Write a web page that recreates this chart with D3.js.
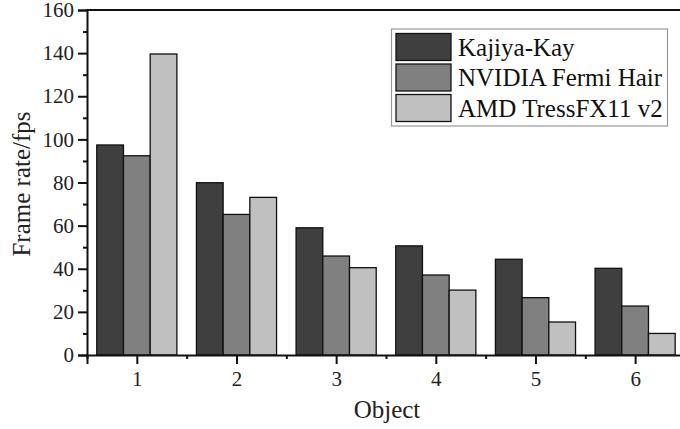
<!DOCTYPE html>
<html>
<head>
<meta charset="utf-8">
<script src="https://cdn.jsdelivr.net/npm/d3@7"></script>
<style>
  html, body { margin: 0; padding: 0; background: #fff; }
  svg { display: block; font-family: "Liberation Serif", "Times New Roman", serif; }
</style>
</head>
<body>
<svg id="chart" width="680" height="429"></svg>
<script>
// ---- data ----
const objects = [1, 2, 3, 4, 5, 6];
const seriesNames = ["Kajiya-Kay", "NVIDIA Fermi Hair", "AMD TressFX11 v2"];
const kajiyaKay = [97.4, 79.9, 59.0, 50.6, 44.4, 40.2];
const nvidiaFermi = [92.4, 65.2, 45.9, 37.1, 26.6, 22.7];
const amdTressFX = [139.6, 73.1, 40.5, 30.1, 15.3, 10.0];
const yTicks = [0, 20, 40, 60, 80, 100, 120, 140, 160];
const colors = ["#3f3f3f", "#808080", "#c0c0c0"];

const series = [kajiyaKay, nvidiaFermi, amdTressFX];

// ---- layout ----
const svg = d3.select("#chart");
const plotLeft = 87, plotTop = 10, plotBottom = 355;

const x = d3.scaleLinear().domain([0.5, 6.5]).range([plotLeft, plotLeft + 6 * 99.66]);
const y = d3.scaleLinear().domain([0, 160]).range([plotBottom, plotTop]);
const barW = 0.268; // in object units

// bars
series.forEach((vals, si) => {
  svg.append("g")
    .selectAll("rect")
    .data(vals)
    .join("rect")
    .attr("x", (d, i) => x(objects[i] - 1.5 * barW + si * barW))
    .attr("y", d => y(d))
    .attr("width", x(barW) - x(0))
    .attr("height", d => y(0) - y(d))
    .attr("fill", colors[si])
    .attr("stroke", "#111")
    .attr("stroke-width", 1.3);
});

// top frame
svg.append("line")
  .attr("x1", plotLeft).attr("x2", 680)
  .attr("y1", y(160)).attr("y2", y(160))
  .attr("stroke", "#111").attr("stroke-width", 2);

// y axis
svg.append("g")
  .attr("transform", `translate(${plotLeft},0)`)
  .call(d3.axisLeft(y).tickValues(yTicks).tickSize(9).tickPadding(4));
svg.append("g")
  .attr("transform", `translate(${plotLeft},0)`)
  .call(d3.axisLeft(y).tickValues(d3.range(10, 160, 20)).tickSize(4).tickFormat(""))
  .call(g => g.select(".domain").remove());

// x axis
svg.append("g")
  .attr("transform", `translate(0,${plotBottom})`)
  .call(d3.axisBottom(x).tickValues(objects).tickSize(9).tickPadding(7).tickFormat(d3.format("d")));
svg.append("g")
  .attr("transform", `translate(0,${plotBottom})`)
  .call(d3.axisBottom(x).tickValues(d3.range(0.5, 7, 1)).tickSize(4).tickFormat(""))
  .call(g => g.select(".domain").remove());

svg.selectAll(".domain").attr("stroke", "#111").attr("stroke-width", 2);
svg.selectAll(".tick line").attr("stroke", "#111").attr("stroke-width", 2);
svg.selectAll(".tick text")
  .attr("font-family", "Liberation Serif, serif")
  .attr("font-size", 21)
  .attr("fill", "#222");

// axis titles
svg.append("text")
  .attr("transform", "translate(30,184) rotate(-90)")
  .attr("text-anchor", "middle")
  .attr("font-size", 25)
  .attr("fill", "#222")
  .text("Frame rate/fps");

svg.append("text")
  .attr("x", 387).attr("y", 418)
  .attr("text-anchor", "middle")
  .attr("font-size", 25)
  .attr("fill", "#222")
  .text("Object");

// legend
const legend = svg.append("g");
legend.append("rect")
  .attr("x", 391.5).attr("y", 29)
  .attr("width", 276).attr("height", 97)
  .attr("fill", "#fff")
  .attr("stroke", "#999").attr("stroke-width", 1.2);

seriesNames.forEach((name, i) => {
  const ry = 33.5 + i * 30.5;
  legend.append("rect")
    .attr("x", 396).attr("y", ry)
    .attr("width", 55).attr("height", 27)
    .attr("fill", colors[i])
    .attr("stroke", "#111").attr("stroke-width", 1.3);
  legend.append("text")
    .attr("x", 458).attr("y", ry + 22)
    .attr("font-size", 25)
    .attr("fill", "#111")
    .text(name);
});
</script>
</body>
</html>
